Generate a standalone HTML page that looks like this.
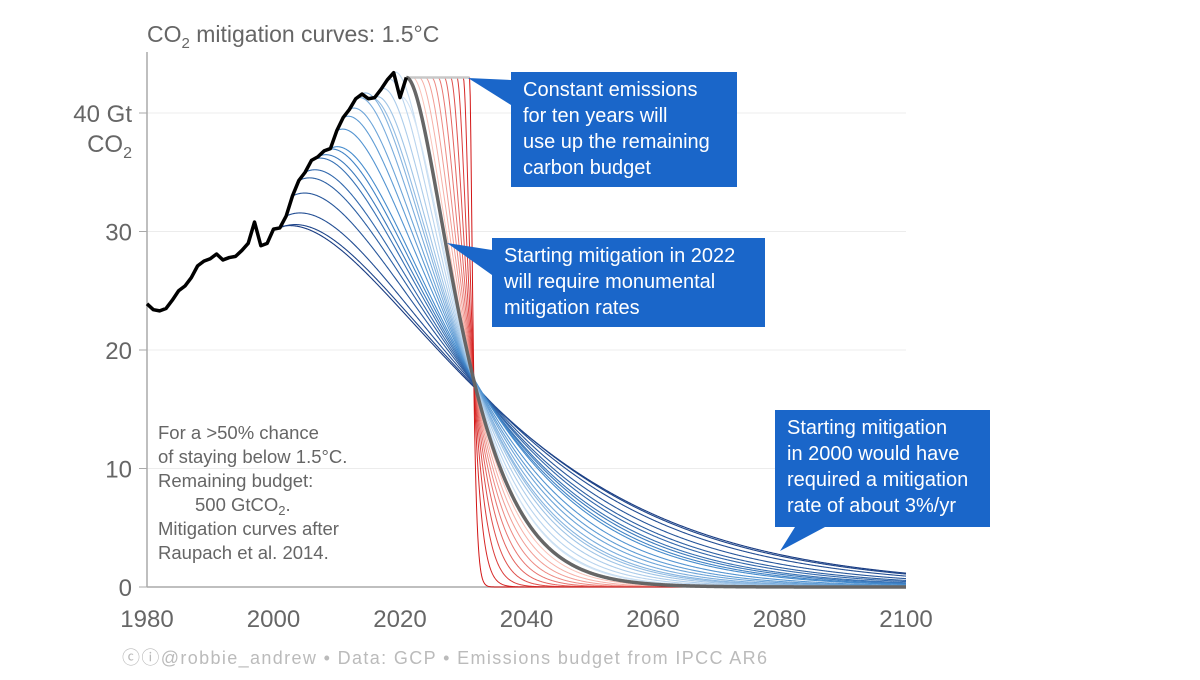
<!DOCTYPE html>
<html><head><meta charset="utf-8"><style>
body{margin:0;background:#fff;}
svg text{font-family:"Liberation Sans",sans-serif;}
</style></head><body>
<svg id="chart" width="1200" height="675" viewBox="0 0 1200 675" xmlns="http://www.w3.org/2000/svg">
<g id="grid"></g>
<g id="curves"></g>
<g id="annot"></g>
</svg>
<script>
const histYears = [1980,1981,1982,1983,1984,1985,1986,1987,1988,1989,1990,1991,1992,1993,1994,1995,1996,1997,1998,1999,2000,2001,2002,2003,2004,2005,2006,2007,2008,2009,2010,2011,2012,2013,2014,2015,2016,2017,2018,2019,2020,2021];
const histValues = [23.9,23.4,23.3,23.5,24.2,25.0,25.4,26.1,27.1,27.5,27.7,28.1,27.6,27.8,27.9,28.4,29.0,30.8,28.8,29.0,30.2,30.3,31.3,33.0,34.3,35.0,36.0,36.3,36.8,37.0,38.5,39.6,40.3,41.2,41.6,41.2,41.3,42.0,42.8,43.4,41.3,43.0];
const budgetFrom2020 = 500;
const growthRate = 0.008;
const constLevel = 43;
const blueStarts = [2000,2001,2002,2003,2004,2005,2006,2007,2008,2009,2010,2011,2012,2013,2014,2015,2016,2017,2018,2019,2020];
const redStarts = [2022,2023,2024,2025,2026,2027,2028,2029,2030,2031];
const xTicks = [1980,2000,2020,2040,2060,2080,2100];
const yTicks = [0,10,20,30];

const NS="http://www.w3.org/2000/svg";
const X0=147,X1=906,Y0=587,YS=11.85;
const xs=y=>X0+(y-1980)*(X1-X0)/120;
const ys=v=>Y0-v*YS;
function mk(tag,attrs,parent){const e=document.createElementNS(NS,tag);for(const k in attrs)e.setAttribute(k,attrs[k]);parent.appendChild(e);return e;}
const grid=document.getElementById('grid'),curves=document.getElementById('curves'),annot=document.getElementById('annot');
const svg=document.getElementById('chart');

let t=mk('text',{x:147,y:42,'font-size':23,fill:'#666'},svg);


t.innerHTML='CO<tspan font-size="15" dy="6">2</tspan><tspan dy="-6"> mitigation curves: 1.5°C</tspan>';

[10,20,30,40].forEach(v=>{const l=mk('line',{x1:X0,x2:X1,y1:ys(v),y2:ys(v),stroke:'#ececec','stroke-width':1},grid);

});
let ax=mk('line',{x1:X0,x2:X0,y1:52,y2:Y0,stroke:'#aaa','stroke-width':1.5},grid);


let bx=mk('line',{x1:X0,x2:X1,y1:Y0,y2:Y0,stroke:'#aaa','stroke-width':1.5},grid);


yTicks.forEach(v=>{const tk=mk('line',{x1:X0-8,x2:X0,y1:ys(v),y2:ys(v),stroke:'#aaa'},grid);


const tx=mk('text',{x:132,y:ys(v)+9,'font-size':24,fill:'#666','text-anchor':'end'},grid);


tx.textContent=v;});
let tk4=mk('line',{x1:X0-8,x2:X0,y1:ys(40),y2:ys(40),stroke:'#aaa'},grid);


let l40=mk('text',{x:132,y:ys(40)+9,'font-size':24,fill:'#666','text-anchor':'end'},grid);


l40.textContent='40 Gt';
let lco=mk('text',{x:132,y:ys(40)+39,'font-size':24,fill:'#666','text-anchor':'end'},grid);


lco.innerHTML='CO<tspan font-size="16" dy="6">2</tspan>';
xTicks.forEach(v=>{const tx=mk('text',{x:xs(v),y:627,'font-size':24,fill:'#666','text-anchor':'middle'},grid);


tx.textContent=v;});

function histSum(a,b){let s=0;for(let i=0;i<histYears.length;i++){if(histYears[i]>=a&&histYears[i]<=b)s+=histValues[i];}return s;}
function val(y){return histValues[histYears.indexOf(y)];}
function curve(start,E0,Q,r,color,w,name){
  const m=(2*E0+Math.sqrt(4*E0*E0+4*Q*E0*r))/(2*Q);
  let d='';
  for(let y=start;y<=2100.001;y+=0.1){const tt=y-start;const f=E0*(1+(r+m)*tt)*Math.exp(-m*tt);d+=(d?'L':'M')+xs(y).toFixed(2)+','+ys(f).toFixed(2);}
  const p=mk('path',{d,fill:'none',stroke:color,'stroke-width':w},curves);
  
  
}
blueStarts.forEach((s,i)=>{
  const Q=budgetFrom2020+histSum(s,2019);
  const k=i/(blueStarts.length-1);
  const c0=[25,60,130],c1=[210,228,245];
  const mid=[70,140,205];
  let c;
  if(k<0.45){const a=k/0.45;c=c0.map((v,j)=>v+(mid[j]-v)*a);}else{const a=(k-0.45)/0.55;c=mid.map((v,j)=>v+(c1[j]-v)*a);}
  curve(s,val(s),Q,growthRate,`rgb(${c.map(Math.round).join(',')})`,1.1,'mitigation-curve-'+s);
});
redStarts.forEach((s,i)=>{
  const Q=budgetFrom2020-histSum(2020,2021)-constLevel*(s-2022);
  const k=i/(redStarts.length-1);
  const c=[250-40*k,195-175*k,185-165*k];
  curve(s,constLevel,Q,0,`rgb(${c.map(Math.round).join(',')})`,1,'delayed-curve-'+s);
});
let cl=mk('line',{x1:xs(2021),x2:xs(2031),y1:ys(constLevel),y2:ys(constLevel),stroke:'#c8c8c8','stroke-width':2.5},curves);


curve(2021,val(2021),budgetFrom2020-val(2020),0,'#666',3.5,'mitigation-curve-2022');
let hd='';histYears.forEach((y,i)=>{hd+=(i?'L':'M')+xs(y).toFixed(2)+','+ys(histValues[i]).toFixed(2);});
let hp=mk('path',{d:hd,fill:'none',stroke:'#000','stroke-width':3.5,'stroke-linejoin':'round'},curves);



function box(x,y,w,h,tip,base,lines,name){
  const g=mk('g',{},annot);
  
  
  mk('polygon',{points:`${tip[0]},${tip[1]} ${base[0]},${base[1]} ${base[2]},${base[3]}`,fill:'#1a66c9'},g);
  mk('rect',{x,y,width:w,height:h,fill:'#1a66c9'},g);
  lines.forEach((l,i)=>{const tx=mk('text',{x:x+12,y:y+24+i*26,'font-size':20,fill:'#fff'},g);tx.textContent=l;});
}
box(511,72,226,115,[468,78],[511,80,511,105],['Constant emissions','for ten years will','use up the remaining','carbon budget'],'annotation-constant');
box(492,238,273,89,[447,243],[492,250,492,275],['Starting mitigation in 2022','will require monumental','mitigation rates'],'annotation-2022');
box(775,410,215,117,[780,551],[795,527,825,527],['Starting mitigation','in 2000 would have','required a mitigation','rate of about 3%/yr'],'annotation-2000');

const note=['For a >50% chance','of staying below 1.5°C.','Remaining budget:','','Mitigation curves after','Raupach et al. 2014.'];
note.forEach((l,i)=>{const tx=mk('text',{x:158,y:439+i*24,'font-size':18.5,fill:'#666'},annot);


tx.textContent=l;});
let nb=mk('text',{x:195,y:439+3*24,'font-size':18.5,fill:'#666'},annot);


nb.innerHTML='500 GtCO<tspan font-size="13" dy="4">2</tspan><tspan dy="-4">.</tspan>';

let ft=mk('text',{x:122,y:664,'font-size':18,fill:'#bbb'},svg);


ft.textContent='ⓒⓘ@robbie_andrew  •  Data: GCP  •  Emissions budget from IPCC AR6';
ft.setAttribute('textLength','645');
</script>
</body></html>
